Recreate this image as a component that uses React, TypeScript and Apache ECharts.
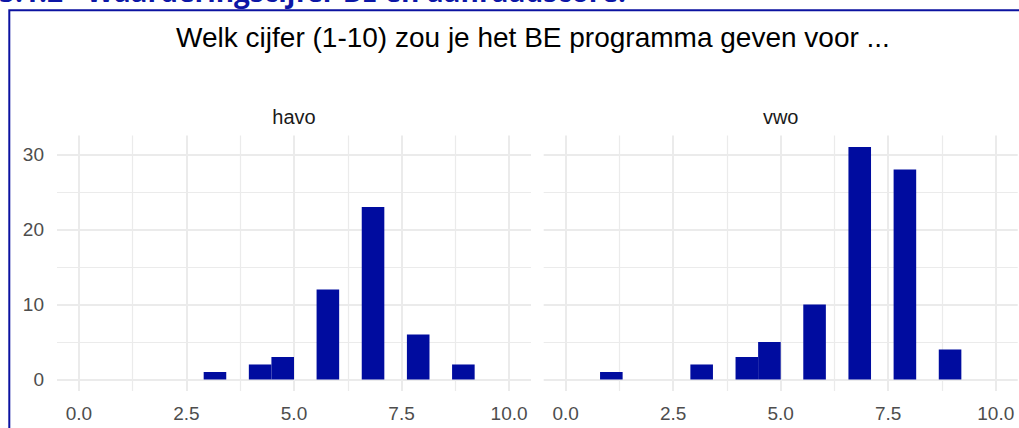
import React, { useEffect, useRef } from "react";
import * as echarts from "echarts";

// ---- data ----
const facets = ["havo", "vwo"];
const havoScores = [3, 4, 5, 6, 7, 8, 9];
const havoCounts = [1, 2, 3, 12, 23, 6, 2];
const vwoScores = [1, 3, 4, 5, 6, 7, 8, 9];
const vwoCounts = [1, 2, 3, 5, 10, 31, 28, 4];
const xMajorTicks = [0, 2.5, 5, 7.5, 10];
const xMinorTicks = [1.25, 3.75, 6.25, 8.75];
const yMajorTicks = [0, 10, 20, 30];
const yMinorTicks = [5, 15, 25];
const titleText = "Welk cijfer (1-10) zou je het BE programma geven voor ...";
const headerText = "5.1.2 - Waarderingscijfer BE en aanraadscore:";

// histogram binning (right-closed bins, as in the source)
const binWidth = 0.525;
const binBoundary = 5;

function toBins(scores: number[], counts: number[]) {
  return scores.map((v, i) => {
    const k = Math.ceil((v - binBoundary) / binWidth - 1e-9);
    const hi = binBoundary + k * binWidth;
    return [hi - binWidth, hi, counts[i]];
  });
}

const FONT = "'Liberation Sans', Arial, sans-serif";
const BAR = "#000c9f";
const GRID = "#ebebeb";
const X_MIN = -0.51;
const X_MAX = 10.51;
const Y_MIN = -1.55;
const Y_MAX = 32.55;

export default function App() {
  const ref = useRef<HTMLDivElement>(null);

  useEffect(() => {
    if (!ref.current) return;
    const chart = echarts.init(ref.current, null, { renderer: "svg" });

    const gridTop = 135.4;
    const gridH = 255.7;
    const gridW = 474;
    const lefts = [57, 543.7];

    const grids = lefts.map((l) => ({ left: l, top: gridTop, width: gridW, height: gridH }));

    const xAxes: any[] = [];
    const yAxes: any[] = [];
    lefts.forEach((_, gi) => {
      xAxes.push({
        type: "value",
        gridIndex: gi,
        min: X_MIN,
        max: X_MAX,
        position: "bottom",
        axisLine: { show: false },
        axisTick: { show: false, customValues: xMajorTicks },
        axisLabel: {
          customValues: xMajorTicks,
          formatter: (v: number) => v.toFixed(1),
          color: "#4d4d4d",
          fontSize: 19,
          fontFamily: FONT,
          margin: 13,
        },
        splitLine: { show: true, lineStyle: { color: GRID, width: 2 } },
      });
      xAxes.push({
        type: "value",
        gridIndex: gi,
        min: X_MIN,
        max: X_MAX,
        axisLine: { show: false },
        axisTick: { show: false, customValues: xMinorTicks },
        axisLabel: { show: false, customValues: xMinorTicks },
        splitLine: { show: true, lineStyle: { color: GRID, width: 1.2 } },
      });
      yAxes.push({
        type: "value",
        gridIndex: gi,
        min: Y_MIN,
        max: Y_MAX,
        position: "left",
        axisLine: { show: false },
        axisTick: { show: false, customValues: yMajorTicks },
        axisLabel: {
          show: gi === 0,
          customValues: yMajorTicks,
          color: "#4d4d4d",
          fontSize: 19,
          fontFamily: FONT,
          margin: 13,
        },
        splitLine: { show: true, lineStyle: { color: GRID, width: 2 } },
      });
      yAxes.push({
        type: "value",
        gridIndex: gi,
        min: Y_MIN,
        max: Y_MAX,
        axisLine: { show: false },
        axisTick: { show: false, customValues: yMinorTicks },
        axisLabel: { show: false, customValues: yMinorTicks },
        splitLine: { show: true, lineStyle: { color: GRID, width: 1.2 } },
      });
    });

    const renderBar = (params: any, api: any) => {
      const lo = api.value(0);
      const hi = api.value(1);
      const c = api.value(2);
      const p0 = api.coord([lo, c]);
      const p1 = api.coord([hi, 0]);
      return {
        type: "rect",
        shape: { x: p0[0], y: p0[1], width: p1[0] - p0[0], height: p1[1] - p0[1] },
        style: { fill: BAR },
      };
    };

    const seriesData = [toBins(havoScores, havoCounts), toBins(vwoScores, vwoCounts)];

    const series = seriesData.map((d, gi) => ({
      type: "custom",
      name: facets[gi],
      xAxisIndex: gi * 2,
      yAxisIndex: gi * 2,
      renderItem: renderBar,
      encode: { x: [0, 1], y: 2 },
      data: d,
      z: 5,
    }));

    chart.setOption({
      animation: false,
      backgroundColor: "#ffffff",
      grid: grids,
      xAxis: xAxes,
      yAxis: yAxes,
      series,
      graphic: [
        {
          type: "text",
          x: -1,
          y: -9,
          style: {
            text: headerText,
            fill: "#0c16a6",
            font: `bold 28px 'Open Sans', ${FONT}`,
            verticalAlign: "middle",
            align: "left",
          },
          z: 10,
        },
        {
          type: "polyline",
          shape: { points: [[9.3, 440], [9.3, 10.2], [1030, 10.2]] },
          style: { stroke: "#0b12a0", lineWidth: 2, fill: "none" },
          z: 10,
        },
        {
          type: "text",
          x: 533,
          y: 37,
          style: {
            text: titleText,
            fill: "#000000",
            font: `28px ${FONT}`,
            align: "center",
            verticalAlign: "middle",
          },
        },
        ...facets.map((f, i) => ({
          type: "text",
          x: lefts[i] + gridW / 2,
          y: 117,
          style: {
            text: f,
            fill: "#1a1a1a",
            font: `20px ${FONT}`,
            align: "center",
            verticalAlign: "middle",
          },
        })),
      ],
    });

    return () => chart.dispose();
  }, []);

  return (
    <div
      ref={ref}
      style={{ position: "fixed", left: 0, top: 0, width: 1019, height: 428 }}
    />
  );
}
